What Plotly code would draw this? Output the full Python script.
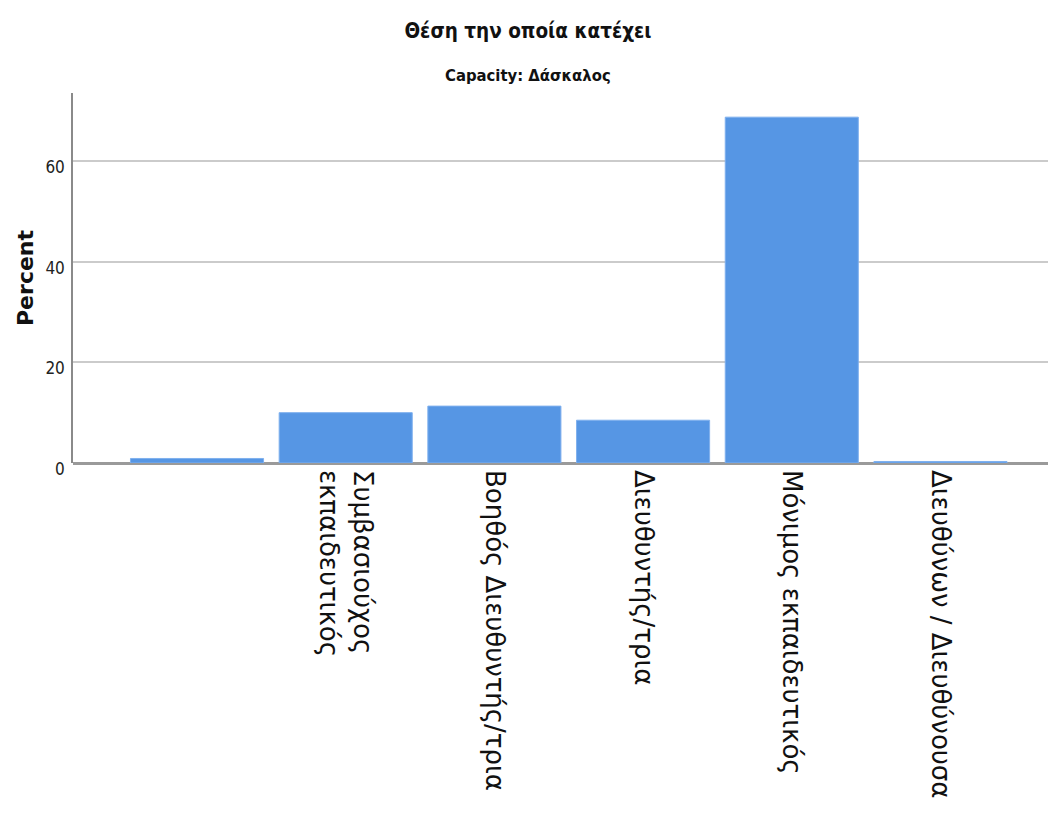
import plotly.graph_objects as go

categories = ["", "Συμβασιούχος<br>εκπαιδευτικός", "Βοηθός Διευθυντής/τρια",
              "Διευθυντής/τρια", "Μόνιμος εκπαιδευτικός", "Διευθύνων / Διευθύνουσα"]
percent = [0.9, 10.0, 11.3, 8.5, 68.7, 0.3]
y_ticks = [0, 20, 40, 60]

positions = list(range(len(categories)))

NARROW = "DejaVu Sans Condensed, Roboto Condensed, Roboto, sans-serif"

# page body has an 8px margin, so the figure is offset by 8px
W, H = 1048, 810

fig = go.Figure(go.Bar(
    x=positions, y=percent,
    marker=dict(color="#5696E4", line=dict(color="#7FB0EE", width=1)),
    hoverinfo="y",
))

fig.update_layout(
    width=W, height=H,
    paper_bgcolor="white", plot_bgcolor="white",
    margin=dict(l=65, r=0, t=85, b=355),
    bargap=0.105,
    showlegend=False,
    title=dict(text="Θέση την οποία κατέχει", x=(528 - 8) / W, xanchor="center",
               y=1 - 23 / H, yanchor="middle", yref="container",
               font=dict(family=NARROW, size=20.5, color="#111", weight="bold")),
    annotations=[dict(text="Capacity: Δάσκαλος", xref="paper", yref="paper",
                      x=(528 - 73) / 983, y=1 + (93 - 75) / 370, xanchor="center", yanchor="middle",
                      showarrow=False,
                      font=dict(family=NARROW, size=16.5, color="#111", weight="bold"))],
)

fig.update_xaxes(
    range=[-0.834, 5.777], automargin=False,
    tickmode="array", tickvals=positions, ticktext=categories,
    tickangle=90, ticks="", showgrid=False, zeroline=False, showline=False,
    tickfont=dict(family="DejaVu Sans", size=26, color="#111"),
    ticklabelstandoff=6,
)

fig.update_yaxes(
    range=[0, 73.5], automargin=False,
    tickmode="array", tickvals=y_ticks,
    showgrid=True, gridcolor="#CBCBCB", gridwidth=1.5,
    zeroline=True, zerolinecolor="#9A9A9A", zerolinewidth=2.5,
    showline=True, linecolor="#8A8A8A", linewidth=1.5,
    ticks="", ticklabelstandoff=3, ticklabelshift=6,
    tickfont=dict(family=NARROW, size=17, color="#222"),
    title=dict(text="Percent", standoff=6,
               font=dict(family="DejaVu Sans", size=22, color="#111", weight="bold")),
)

fig.write_html("out.html")
